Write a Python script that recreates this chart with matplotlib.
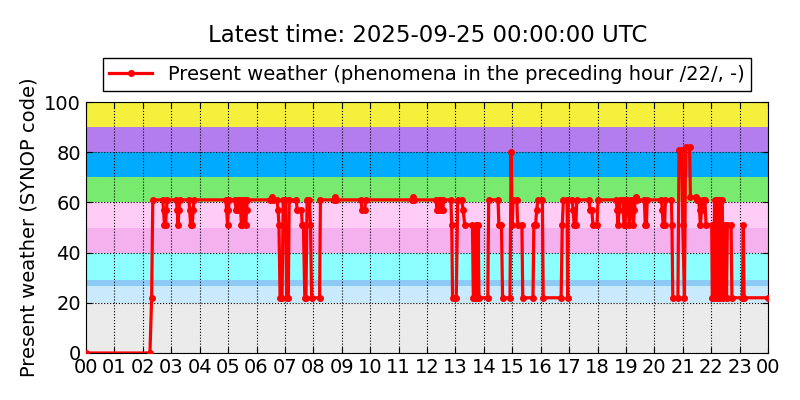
import matplotlib
matplotlib.use("Agg")
import matplotlib.pyplot as plt

hours = [0.00, 2.25, 2.31, 2.35,
         2.70, 2.73, 2.76, 2.80, 2.83, 2.86,
         3.18, 3.21, 3.24, 3.27, 3.30,
         3.62, 3.65, 3.68, 3.74, 3.77, 3.80,
         4.92, 4.95, 4.98, 5.01, 5.04,
         5.25, 5.28, 5.32, 5.35,
         5.42, 5.44, 5.47, 5.50, 5.52,
         5.58, 5.60, 5.62, 5.65, 5.68,
         6.48, 6.53, 6.58,
         6.72, 6.76, 6.79, 6.83, 6.90, 6.94, 7.02, 7.06, 7.12, 7.15,
         7.40, 7.43, 7.58, 7.61, 7.65, 7.70, 7.74, 7.78, 7.86, 7.90, 7.94,
         8.22, 8.25,
         8.72, 8.76, 8.80,
         9.68, 9.71, 9.81, 9.84,
         11.46, 11.50, 11.54,
         12.32, 12.35, 12.40, 12.43, 12.48, 12.51, 12.56, 12.58,
         12.84, 12.87, 12.90, 13.03, 13.08, 13.22, 13.27, 13.33,
         13.60, 13.63, 13.68, 13.72, 13.75, 13.80, 13.83, 14.14, 14.17,
         14.50, 14.53, 14.62, 14.66, 14.92, 14.96, 15.00, 15.03, 15.16, 15.19,
         15.34, 15.37, 15.73, 15.76, 15.82, 15.86, 15.90, 16.06, 16.09,
         16.72, 16.76, 16.80, 16.93, 16.95, 16.97,
         17.11, 17.14, 17.18, 17.24, 17.27,
         17.70, 17.74, 17.80, 17.84, 17.98, 18.02,
         18.66, 18.69, 18.72, 18.76, 18.80,
         18.90, 18.93, 18.97, 19.00,
         19.05, 19.08, 19.12, 19.16, 19.19,
         19.23, 19.26, 19.30, 19.33, 19.36, 19.40,
         19.65, 19.68, 19.72, 19.75,
         20.25, 20.28, 20.31, 20.36, 20.39,
         20.60, 20.62, 20.65, 20.83, 20.87, 20.97, 21.00, 21.06, 21.10, 21.24,
         21.27, 21.45, 21.49, 21.56, 21.59, 21.62, 21.66, 21.70, 21.78, 21.82,
         22.02, 22.04, 22.08, 22.12, 22.16, 22.19, 22.24, 22.27, 22.31, 22.34,
         22.39, 22.42, 22.48, 22.52, 22.54, 22.57, 22.70, 22.73,
         23.10, 23.13, 23.16, 24.00]
codes = [0, 0, 22, 61,
         61, 57, 51, 51, 57, 61,
         61, 57, 51, 57, 61,
         61, 57, 51, 51, 57, 61,
         61, 57, 51, 57, 61,
         61, 57, 57, 61,
         61, 57, 51, 51, 61,
         61, 57, 51, 57, 61,
         61, 62, 61,
         61, 57, 51, 22, 22, 61, 61, 22, 22, 61,
         61, 57, 57, 51, 51, 22, 22, 61, 61, 51, 22,
         22, 61,
         61, 62, 61,
         61, 57, 57, 61,
         61, 62, 61,
         61, 57, 57, 61, 61, 57, 57, 61,
         61, 51, 22, 22, 61, 61, 57, 51,
         51, 22, 22, 51, 22, 51, 22, 22, 61,
         61, 51, 51, 22, 22, 80, 51, 61, 61, 51,
         51, 22, 22, 51, 51, 57, 61, 61, 22,
         22, 51, 61, 61, 22, 61,
         61, 57, 51, 51, 61,
         61, 57, 57, 51, 51, 61,
         61, 57, 51, 57, 61,
         61, 51, 51, 61,
         61, 57, 51, 57, 61,
         61, 51, 57, 61, 62, 61,
         61, 51, 51, 61,
         61, 57, 51, 51, 61,
         61, 51, 22, 22, 81, 81, 51, 22, 82, 82,
         62, 62, 61, 61, 57, 51, 57, 61, 61, 51,
         51, 22, 22, 61, 22, 61, 22, 61, 22, 61,
         61, 22, 51, 51, 22, 51, 51, 22,
         22, 51, 22, 22]

# background bands for the code groups
band_edges = [0, 20, 26.5, 29, 40, 50, 60, 70, 80, 90, 100]
band_colors = ["#ebebeb", "#c8eafc", "#8ccbf5", "#8cffff", "#f5b0ee",
               "#ffccf5", "#78eb6e", "#00aaff", "#b47ded", "#f5f03c"]

hour_ticks = list(range(25))
hour_labels = ["%02d" % (h % 24) for h in hour_ticks]

fig = plt.figure(figsize=(8, 4), dpi=100, facecolor="white")
ax = fig.add_axes([0.1075, 0.1175, 0.8525, 0.6275])

for i in range(len(band_colors)):
    ax.axhspan(band_edges[i], band_edges[i + 1], color=band_colors[i], lw=0, zorder=0)

ax.plot(hours, codes, color="red", lw=2.3, marker="o", ms=4, mec="red",
        zorder=3, label="Present weather (phenomena in the preceding hour /22/, -)")

ax.set_xlim(0, 24)
ax.set_ylim(0, 100)
ax.set_xticks(hour_ticks)
ax.set_xticklabels(hour_labels)
ax.set_yticks(range(0, 101, 20))
ax.tick_params(direction="in", top=True, right=True, labelsize=14, length=4)
ax.grid(True, color="k", linestyle=":", lw=0.8, zorder=2)
ax.set_axisbelow(False)
ax.set_ylabel("Present weather (SYNOP code)", fontsize=14)

leg = ax.legend(loc="lower center", bbox_to_anchor=(0.5, 1.045), fontsize=14,
                numpoints=1, fancybox=False, framealpha=1, borderaxespad=0,
                handlelength=2.2, borderpad=0.35)
leg.get_frame().set_edgecolor("black")

fig.text(0.534, 1 - 35 / 400, "Latest time: 2025-09-25 00:00:00 UTC",
         ha="center", va="center", fontsize=16.5)

fig.savefig("out.png", dpi=100, facecolor="white")
